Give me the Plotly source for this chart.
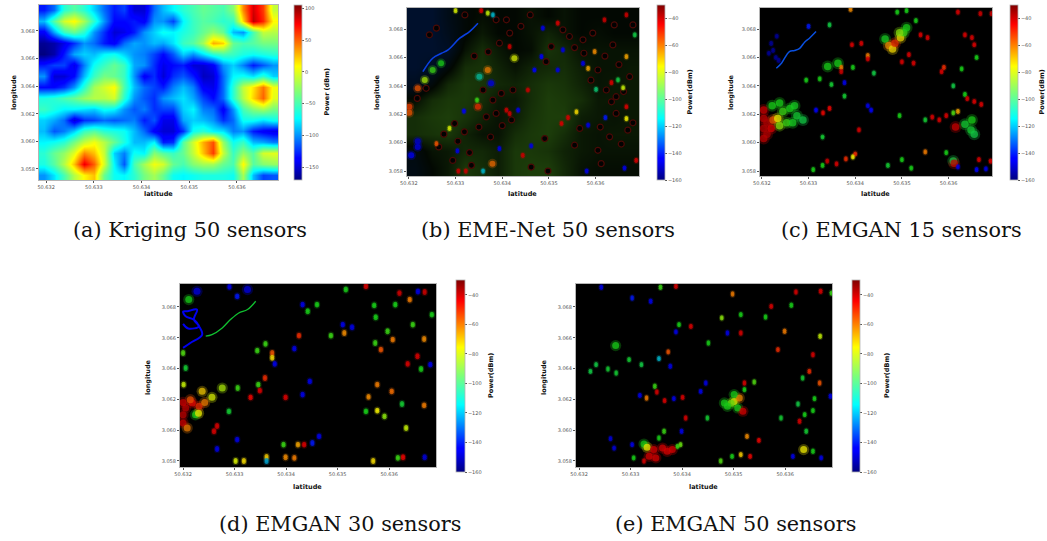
import numpy as np
import plotly.graph_objects as go

LAT0, LON0 = 50.632, 3.058   # spot coordinates below are milli-degrees from this corner
LAT_TICKS = [50.632, 50.633, 50.634, 50.635, 50.636]
LON_TICKS = [3.058, 3.060, 3.062, 3.064, 3.066, 3.068]
LAT_LABELS = ["50.632", "50.633", "50.634", "50.635", "50.636"]
LON_LABELS = ["3.058", "3.060", "3.062", "3.064", "3.066", "3.068"]
POWER_TICKS_A = [100, 50, 0, -50, -100, -150]
POWER_LABELS_A = ["100", "50", "0", "\u221250", "\u2212100", "\u2212150"]
POWER_TICKS = [-40, -60, -80, -100, -120, -140, -160]
POWER_LABELS = ["\u221240", "\u221260", "\u221280", "\u2212100", "\u2212120", "\u2212140", "\u2212160"]
CAPTIONS = ["(a) Kriging 50 sensors", "(b) EME-Net 50 sensors", "(c) EMGAN 15 sensors",
            "(d) EMGAN 30 sensors", "(e) EMGAN 50 sensors"]

# (a) Kriging power field, dBm, rows top to bottom
KRIGING = [
[-130,-110,-60,-45,-60,-85,-110,-130,-120,-150,-150,-110,-90,-75,-60,-50,-40,-45,-50,-30,40,85,60,-10],
[-90,-45,-5,10,-20,-60,-100,-135,-135,-130,-140,-100,-100,-120,-75,-55,-45,-50,-60,-55,20,90,65,10],
[-140,-95,-55,-40,-60,-100,-125,-150,-145,-130,-100,-85,-70,-75,-65,-55,-40,-25,-40,-90,-100,-50,-10,-15],
[-165,-160,-145,-125,-100,-110,-130,-140,-110,-95,-100,-90,-95,-80,-55,-45,-20,30,20,-40,-50,-45,-35,-35],
[-170,-160,-130,-95,-85,-90,-75,-70,-85,-100,-105,-120,-135,-115,-85,-100,-80,-60,-50,-55,-65,-70,-65,-60],
[-130,-120,-120,-145,-105,-70,-55,-40,-55,-95,-100,-125,-145,-135,-130,-150,-150,-140,-100,-85,-105,-130,-115,-100],
[-100,-150,-150,-135,-90,-55,-35,-40,-55,-100,-140,-125,-150,-125,-115,-130,-155,-150,-110,-75,-70,-80,-60,-85],
[-135,-135,-125,-100,-60,-20,-5,10,-50,-90,-110,-120,-130,-105,-90,-105,-140,-145,-110,-60,-10,15,45,5],
[-65,-60,-50,-40,-25,-15,-15,-5,-60,-100,-115,-125,-100,-90,-80,-95,-120,-135,-110,-60,-15,20,50,0],
[-55,-65,-75,-75,-80,-85,-70,-75,-100,-115,-105,-125,-120,-120,-85,-75,-105,-110,-140,-100,-50,-30,-20,-35],
[-85,-95,-110,-150,-125,-120,-110,-115,-110,-105,-130,-115,-145,-145,-95,-85,-90,-100,-125,-110,-70,-70,-80,-70],
[-90,-115,-105,-85,-55,-45,-60,-65,-70,-90,-110,-140,-150,-150,-125,-70,-60,-75,-80,-105,-100,-130,-140,-145],
[-75,-70,-60,-35,-10,5,-15,-40,-65,-90,-90,-75,-130,-125,-45,-5,30,55,-25,-70,-55,-90,-95,-105],
[-60,-40,-25,0,40,25,-10,-85,-105,-70,-75,-30,-45,-55,-40,-10,25,60,-10,-55,-25,-45,-5,0],
[-65,-45,-15,25,80,50,-5,-75,-115,-50,-20,5,-5,-40,-50,-30,-20,-20,-40,-50,10,-45,-30,-25],
[-100,-80,-50,-15,10,25,-40,-70,-75,-60,-35,-20,-40,-70,-75,-70,-65,-65,-65,-70,-20,-90,-120,-115],
]

# (b) faint background level: -1 deep navy, 0 black, 1 dark green, rows top to bottom
B_GROUND = [
[-1,-1,-.5,-.1,.1,0,0,.2,0,.2,0,0,0,0],
[-1,-1,-.6,-.1,.3,0,0,.2,.5,.2,0,.1,0,0],
[-1,-1,-.8,.2,.7,.3,0,.1,.8,.6,.2,.2,.2,.2],
[-1,-.8,-.2,.7,.8,.5,.2,.5,.6,.7,.4,.2,.2,.3],
[-.7,-.2,.6,.9,.8,.6,.5,.7,.9,.8,.5,.2,.3,.3],
[.1,.7,.9,.9,.7,.3,.3,.7,1,.9,.7,.3,.3,.3],
[.7,.9,1,.8,.5,.2,.4,.8,1,1,.4,.3,.2,.3],
[.7,.8,.9,.5,.2,.2,.7,.9,1,.7,.3,.2,.3,.3],
[-.3,.2,.3,.6,.6,.4,.9,.9,.8,.5,.3,.2,.2,.2],
[-.4,0,.3,.9,.7,.4,.9,1,1,.6,.2,.1,.1,.1],
]
# (b) dark pits with a faint red rim: (lat, lon)
B_PITS = [(.37,5.83),(.18,5.12),(.64,1.7),(.98,3.35),(1.19,2.76),(.94,.75),(1.34,.4),(1.8,5.0),(1.59,5.71),
(1.66,3.82),(1.87,4.06),(1.98,5.47),(2.23,5.71),(1.94,9.01),(1.87,10.66),(2.09,10.66),(2.16,9.72),(2.98,0),
(2.62,.28),(2.91,2.29),(3.55,1.82),(3.66,3.0),(4.05,1.46),(4.12,.52),(4.3,2.41),(4.44,4.06),(4.69,2.88),
(4.34,4.88),(4.05,7.12),(4.23,5.71),(4.44,5.24),(3.73,9.25),(3.3,9.95),(3.44,9.48),(3.94,9.72),(4.37,8.89),
(4.73,6.65),(3.05,8.77),(2.94,7.71),(.59,10.07),(.44,9.6),(1.5,3.1),(1.75,2.4),(1.05,2.1),(1.3,1.3),(.75,2.6),
(2.2,3.6),(2.0,3.2),(4.55,1.9),(4.8,3.4),(4.1,3.1),(4.6,5.6),(3.9,6.4),(4.5,7.5),(4.2,8.1),(3.55,8.7),(3.75,8.3),
(2.4,10.2),(2.6,11.0),(1.2,11.0),(1.4,8.1),(1.7,8.4),(4.8,10.3),(4.4,10.3)]
# Streaks that run as a thin wavy line: (lat, lon)
B_RIVER = [(.3,7.0),(.51,7.95),(.7,8.3),(.84,8.54),(1.09,9.36),(1.3,9.83),(1.48,10.42)]
C_RIVER = [(.31,7.24),(.42,7.6),(.59,8.42),(.7,8.5),(.81,8.65),(.92,9.1),(1.02,9.36),(1.16,9.83)]
D_RIVER = [(.44,8.1),(.56,8.2),(.76,8.64),(.92,9.18),(1.08,9.61),(1.25,9.83),(1.41,10.37)]
D_WEB = [(.0,7.34),(.14,7.66),(.37,8.2),(.31,8.74),(.21,9.18),(.05,9.39),(.0,9.7),(.08,9.72),(.27,9.83),(.21,9.18),(.31,8.74),(.1,8.6),(.0,8.9)]
# Spots: (lat, lon, dBm). BIG are broad hot spots, SMALL are narrow ones
B_BIG = [(.01,4.53,-52),(.01,4.1,-55),(.19,5.83,-55),(.34,6.42,-82),(.51,7.12,-92),(.69,7.59,-95),
(2.26,7.95,-78),(1.69,7.12,-60),(1.51,6.65,-110),(1.76,6.18,-148),(1.48,4.53,-50),(.19,1.7,-148),(.05,1.11,-145),
(.19,2.1,-150),(1.79,.52,-58)]
B_SMALL = [(1.46,5.0,-92),(1.18,4.22,-145),(.59,1.93,-55),(.87,3.0,-78),(1.04,1.42,-148),(1.59,0,-115),(1.22,0,-40),
(1.06,0,-40),(2.16,8.77,-40),
(2.69,7.12,-145),(2.84,8.07,-145),(2.34,4.29,-148),(2.55,5.71,-40),(2.09,4.29,-40),(2.16,4.05,-40),(1.94,1.58,-148),
(2.62,1.77,-148),(2.44,1.11,-40),(3.59,4.17,-72),(3.41,3.77,-42),(3.27,3.35,-42),(3.84,3.23,-148),(4.21,3.77,-140),
(4.66,3.7,-75),(4.01,5.75,-105),(3.84,7.24,-65),(3.98,8.42,-62),(3.73,7.59,-148),(4.66,8.07,-65),(4.34,6.23,-42),
(4.48,6.42,-100),(4.59,5.87,-80),(4.66,4.53,-42),(4.87,.75,-42),(4.62,.21,-148),(3.81,0,-148),(4.19,10.66,-40),
(4.66,11.0,-40),(3.19,10.42,-42),(2.87,10.07,-148),(3.3,8.54,-148),(3.19,7.12,-148),(4.84,9.6,-100),(1.69,11.13,-80),
(1.8,11.0,-115),(1.55,11.3,-42),(1.0,11.3,-78)]

C_BIG = [(.04,3.7,-38),(.04,3.0,-37),(.11,3.4,-36),(.11,2.6,-36),(.2,3.0,-42),(.04,2.3,-38),(.04,4.3,-40),(.24,3.6,-55),
(.34,3.7,-76),(.38,3.2,-85),(.45,4.2,-92),(.53,3.4,-92),(.22,4.6,-95),(.38,4.8,-95),(.6,4.4,-95),(.7,4.6,-96),(.75,3.9,-98),
(.88,3.6,-100),(.66,3.4,-96),(2.64,9.3,-96),(2.72,8.85,-62),(2.8,8.6,-72),(2.85,9.0,-50),(2.97,9.4,-72),(3.04,9.75,-92),
(3.1,10.1,-95),(2.95,9.75,-85),(4.35,3.3,-98),(4.48,2.9,-98),(4.55,2.6,-100),(4.5,3.6,-95),(4.15,3.1,-40),(4.1,.7,-100),
(4.12,.55,-40),(1.41,7.36,-95),(1.63,7.6,-95)]
C_SMALL = [(1.0,10.2,-140),(1.45,10.3,-100),(.24,8.5,-158),(.3,8.0,-158),(.2,9.0,-158),(.32,9.5,-158),(.36,7.8,-158),
(.15,8.3,-158),(1.7,7.0,-40),(1.7,7.3,-60),(.95,6.4,-95),(1.24,6.5,-95),(1.49,6.1,-98),(1.77,6.23,-148),(1.77,5.28,-98),
(1.45,4.41,-45),(1.31,4.1,-45),(1.16,4.29,-145),(2.27,8.14,-60),(2.27,7.9,-42),(2.13,9.0,-42),(1.93,8.9,-42),(1.95,7.3,-95),
(2.4,6.9,-100),(2.34,4.29,-145),(2.27,4.6,-148),(2.08,2.9,-42),(1.3,2.4,-98),(1.4,.7,-40),(1.6,.5,-42),(1.8,.85,-50),(1.95,1.0,-75),
(2.0,1.2,-50),(1.3,.4,-95),(1.1,.1,-95),(2.7,.4,-98),(3.0,.8,-95),(3.2,.2,-95),(3.5,1.35,-60),(2.95,3.9,-95),(3.5,3.6,-98),
(3.8,3.6,-42),(3.95,3.9,-42),(3.65,3.8,-42),(4.2,4.2,-65),(4.1,4.1,-90),(3.0,7.7,-42),(3.15,8.2,-42),(3.25,7.6,-42),
(3.9,7.3,-50),(3.85,7.0,-42),(4.28,7.2,-95),(4.1,6.0,-100),(4.4,5.1,-42),(4.55,4.9,-42),(4.7,4.7,-42),(4.35,5.4,-95),
(4.35,9.6,-42),(4.5,9.4,-42),(4.55,8.9,-42),(4.6,8.0,-95),(3.4,9.6,-42),(3.55,9.4,-42),(3.3,10.6,-95),(3.1,11.3,-95),
(2.9,11.2,-95),(4.2,11.2,-42),(4.68,11.1,-40),(4.92,11.1,-40),(1.9,11.4,-62),(4.2,.3,-148),(4.6,.1,-145),(4.8,.15,-148),
(4.65,.8,-42),(4.9,.7,-42),(3.95,1.3,-95)]

D_BIG = [(.27,11.02,-148),(.11,10.48,-95),(1.25,11.13,-148),(.05,3.44,-38),(.0,3.0,-38),(.0,2.47,-40),(.08,2.14,-60),(.18,3.77,-45),
(.31,3.55,-50),(.37,4.52,-70),(.56,4.13,-78),(.76,4.74,-82),(.24,3.0,-95),(.14,3.98,-55),(.0,3.8,-40),(.3,3.1,-75),(.42,3.8,-60)]
D_SMALL = [(1.05,10.69,-140),(.9,11.3,-148),(.0,7.01,-90),(.05,6.04,-98),(.01,4.96,-80),(1.06,4.74,-92),(.89,3.22,-98),(1.31,4.13,-45),
(1.49,4.57,-42),(1.46,4.96,-92),(1.59,5.39,-50),(1.44,7.16,-92),(1.6,7.6,-92),(1.73,7.01,-55),(1.73,6.7,-72),(1.78,6.3,-148),
(.6,1.93,-42),(.66,2.27,-42),(1.05,1.39,-148),(.66,.78,-148),(1.62,.26,-70),(1.02,.0,-78),(1.18,.0,-72),(1.62,.0,-118),
(1.99,.24,-62),(2.16,.2,-60),(1.95,1.06,-92),(2.23,1.06,-65),(2.35,1.06,-42),(2.51,1.17,-140),(2.64,1.6,-148),(2.32,4.31,-148),
(2.46,5.17,-148),(1.99,4.13,-42),(2.25,8.14,-50),(2.16,7.29,-148),(3.13,8.31,-62),(2.87,8.14,-92),(2.6,10.15,-95),(2.42,9.72,-95),
(2.32,10.15,-148),(3.16,11.13,-95),(3.55,11.34,-42),(3.71,10.1,-95),(3.74,9.33,-95),(4.12,10.15,-95),(4.2,10.9,-40),
(4.4,10.48,-60),(4.69,10.97,-40),(4.56,11.0,-148),(4.83,9.5,-95),(4.46,8.85,-92),(3.97,8.42,-92),(4.07,7.88,-60),(4.68,7.92,-62),
(3.73,7.66,-92),(3.84,7.23,-55),(4.55,6.8,-42),(4.36,6.3,-42),(4.62,5.97,-95),(4.8,6.26,-148),(3.77,4.96,-60),(4.05,4.52,-58),
(3.6,4.16,-62),(4.25,3.7,-98),(4.68,3.61,-60),(3.55,3.22,-95),(3.77,3.27,-75),(3.91,2.9,-85),(4.33,2.14,-80),(4.27,.24,-45),
(4.17,.2,-92),(4.69,.24,-150),(3.69,.0,-72),(3.1,8.85,-148),(3.28,8.68,-148)]

E_BIG = [(.71,7.49,-95),(1.26,1.1,-95),(1.32,.89,-75),(1.36,.3,-42),(1.49,.2,-42),(1.71,.63,-42),(1.81,.74,-42),(1.62,.84,-42),
(1.45,.74,-42),(3.01,3.87,-78),(2.95,3.75,-88),(2.88,3.55,-95),(3.11,4.09,-62),(3.08,3.44,-95),(2.82,3.77,-95),(3.01,4.31,-95),
(3.18,3.23,-42),(4.36,.74,-75)]
E_SMALL = [(.97,6.58,-98),(.33,6.26,-100),(.72,5.71,-98),(.22,5.82,-100),(.56,5.97,-98),(1.21,6.26,-100),(1.39,10.37,-148),
(1.03,10.58,-140),(.43,11.28,-148),(1.88,8.38,-148),(1.55,6.65,-115),(1.77,6.15,-148),(2.36,4.52,-148),(2.46,5.06,-148),
(1.18,4.26,-148),(1.84,4.05,-148),(1.99,1.93,-148),(.61,1.45,-150),(.68,.84,-150),(2.88,8.31,-148),(4.15,.3,-148),(4.7,.2,-148),
(1.73,7.08,-55),(1.51,4.48,-42),(1.47,4.85,-92),(1.31,4.09,-60),(1.66,3.92,-42),(2.01,4.13,-42),(2.17,8.74,-42),(1.94,8.85,-95),
(1.88,11.34,-42),(1.58,11.28,-92),(2.98,10.84,-60),(2.77,9.29,-85),(3.14,9.5,-95),(3.14,8.31,-42),(2.51,7.66,-95),(3.73,10.04,-42),
(3.62,9.35,-95),(4.12,10.11,-95),(4.21,10.97,-42),(4.69,11.02,-42),(4.9,10.9,-92),(3.99,8.42,-60),(3.86,7.23,-50),(4.68,8.1,-80),
(4.54,6.9,-42),(4.47,5.82,-50),(4.67,5.06,-55),(4.34,5.39,-98),(4.57,4.05,-95),(4.54,3.27,-95),(4.25,3.7,-100),(4.28,2.58,-42),
(4.38,3.01,-95),(4.41,1.93,-98),(4.54,.63,-95),(4.88,4.2,-148),(3.92,2.79,-98),(3.49,1.34,-45),(3.26,1.6,-62),(3.14,.41,-70),
(3.32,.3,-45),(2.97,.3,-95),(2.75,.0,-90),(2.49,2.79,-98),(3.21,4.63,-95),(3.4,5.13,-90),(3.21,5.06,-42),(1.26,.0,-42),
(1.55,1.49,-95),(1.65,1.93,-92),(1.91,.95,-92),(1.97,1.06,-88),(1.06,.2,-95),(1.03,1.06,-148),(2.07,2.79,-42)]

JET = [[0, "#00007f"], [0.11, "#0000ff"], [0.125, "#0000ff"], [0.35, "#00ffff"], [0.5, "#7cff79"],
       [0.65, "#ffff00"], [0.89, "#ff0000"], [1, "#7f0000"]]
# Mid-range greens sit darker on the black ground in panels b to e
SPOT_JET = [[0, "#00007f"], [0.11, "#0000f0"], [0.125, "#0000f0"], [0.35, "#00b0c0"], [0.5, "#18c818"],
            [0.65, "#e8e800"], [0.89, "#e00000"], [1, "#7f0000"]]
GROUND = [[0, "#00102c"], [0.5, "#020802"], [1, "#1c3d0a"]]
W, H = 1047, 541
TICK_FONT = dict(family="DejaVu Sans", size=5, color="#555555")
LABEL_FONT = dict(family="DejaVu Sans", size=6.5, color="#111111")


def fx(px):
    return px / W


def fy(px):
    return 1 - px / H


def centres(rng, count):
    step = (rng[1] - rng[0]) / count
    return rng[0] + step * (np.arange(count) + 0.5)


PANELS = [
    dict(box=(39, 278, 5, 180), bar=(294, 302, 5, 180), lat=(50.63185, 50.63686), lon=(3.0572, 3.06988),
         cap=(190, 230), clim=(-170, 105), ticks=POWER_TICKS_A, labels=POWER_LABELS_A, name="Power (dBm)", tx=326,
         xt=(158, 194), yt=(14, 92)),
    dict(box=(407, 639, 8, 176), bar=(657, 665, 5, 180), lat=(50.63196, 50.63693), lon=(3.05765, 3.06949),
         cap=(548, 230), clim=(-160, -30), ticks=POWER_TICKS, labels=POWER_LABELS, name="Power(dBm)", tx=689,
         xt=(522, 194), yt=(377, 92)),
    dict(box=(760, 992, 8, 176), bar=(1010, 1018, 5, 180), lat=(50.63196, 50.63693), lon=(3.05765, 3.06949),
         cap=(901, 230), clim=(-160, -30), ticks=POWER_TICKS, labels=POWER_LABELS, name="Power(dBm)", tx=1041,
         xt=(875, 194), yt=(731, 92)),
    dict(box=(180, 436, 284, 467), bar=(456, 465, 280, 472), lat=(50.63194, 50.63691), lon=(3.05761, 3.06949),
         cap=(340, 524), clim=(-160, -30), ticks=POWER_TICKS, labels=POWER_LABELS, name="Power(dBm)", tx=491,
         xt=(307, 487), yt=(148, 377)),
    dict(box=(576, 832, 284, 467), bar=(852, 860, 280, 472), lat=(50.63194, 50.63691), lon=(3.05761, 3.06949),
         cap=(735, 524), clim=(-160, -30), ticks=POWER_TICKS, labels=POWER_LABELS, name="Power(dBm)", tx=887,
         xt=(703, 487), yt=(544, 377)),
]
SPOTS = [None, (B_BIG, B_SMALL, 6, 3.5), (C_BIG, C_SMALL, 7.5, 3.5), (D_BIG, D_SMALL, 7, 4), (E_BIG, E_SMALL, 7, 3.5)]
RIVERS = [[], [(B_RIVER, "#0a40e0", 1.6)], [(C_RIVER, "#0a50e0", 1.5)],
          [(D_RIVER, "#10c030", 1.3), (D_WEB, "#0000f0", 2)], []]

fig = go.Figure()
layout = dict(width=W, height=H, margin=dict(l=0, r=0, t=0, b=0, autoexpand=False), paper_bgcolor="white",
              plot_bgcolor="black", showlegend=False, annotations=[])


def note(pos, text, font, angle=0):
    layout["annotations"].append(dict(xref="paper", yref="paper", x=fx(pos[0]), y=fy(pos[1]), xanchor="center",
                                      yanchor="middle", text=text, textangle=angle, showarrow=False, font=font))


for i, p in enumerate(PANELS):
    n = i + 1
    xa, ya = f"x{n}", f"y{n}"
    ca_ref = f"coloraxis{n}" if n > 1 else "coloraxis"
    layout[f"xaxis{n}"] = dict(domain=[fx(p["box"][0]), fx(p["box"][1])], range=p["lat"], anchor=ya,
                               tickvals=LAT_TICKS, ticktext=LAT_LABELS, tickfont=TICK_FONT, ticks="outside",
                               ticklen=2, tickwidth=0.6, tickcolor="#555555", showgrid=False, zeroline=False,
                               showline=True, mirror=True, linecolor="#b5b5b5", linewidth=1)
    layout[f"yaxis{n}"] = dict(domain=[fy(p["box"][3]), fy(p["box"][2])], range=p["lon"], anchor=xa,
                               tickvals=LON_TICKS, ticktext=LON_LABELS, tickfont=TICK_FONT, ticks="outside",
                               ticklen=2, tickwidth=0.6, tickcolor="#555555", showgrid=False, zeroline=False,
                               showline=True, mirror=True, linecolor="#b5b5b5", linewidth=1)
    b = p["bar"]
    layout[ca_ref] = dict(
        cmin=p["clim"][0], cmax=p["clim"][1], colorscale=JET,
        colorbar=dict(x=fx(b[0]), xanchor="left", y=fy(b[3]), yanchor="bottom", len=(b[3] - b[2]) / H,
                      lenmode="fraction", thickness=b[1] - b[0], thicknessmode="pixels",
                      tickvals=p["ticks"], ticktext=p["labels"], tickfont=TICK_FONT, ticks="outside",
                      ticklen=2, tickwidth=0.6, tickcolor="#555555", outlinecolor="#b5b5b5", outlinewidth=0.8,
                      xpad=0, ypad=0))
    note((p["tx"], (b[2] + b[3]) / 2), f"<b>{p['name']}</b>", LABEL_FONT, -90)
    note(p["xt"], "<b>latitude</b>", LABEL_FONT)
    note(p["yt"], "<b>longitude</b>", LABEL_FONT, -90)
    note(p["cap"], CAPTIONS[i], dict(family="DejaVu Serif", size=20.8, color="#111111"))

    if i == 0:
        z = np.array(KRIGING)
        fig.add_trace(go.Heatmap(z=z[::-1], x=centres(p["lat"], z.shape[1]), y=centres(p["lon"], z.shape[0]),
                                 coloraxis=ca_ref, zsmooth="best", xaxis=xa, yaxis=ya))
        continue

    if i == 1:
        g = np.array(B_GROUND)
        fig.add_trace(go.Heatmap(z=g[::-1], x=centres(p["lat"], g.shape[1]), y=centres(p["lon"], g.shape[0]),
                                 zmin=-1, zmax=1, colorscale=GROUND, showscale=False, zsmooth="best",
                                 xaxis=xa, yaxis=ya))
        pits = np.array(B_PITS)
        fig.add_trace(go.Scatter(x=LAT0 + pits[:, 0] / 1000, y=LON0 + pits[:, 1] / 1000, mode="markers", xaxis=xa, yaxis=ya,
                                 marker=dict(size=6, color="#020202", line=dict(color="#4a0a06", width=1.2))))
    for path, colour, width in RIVERS[i]:
        a = np.array(path)
        fig.add_trace(go.Scatter(x=LAT0 + a[:, 0] / 1000, y=LON0 + a[:, 1] / 1000, mode="lines", xaxis=xa, yaxis=ya,
                                 line=dict(color=colour, width=width, shape="spline")))
    big, small, sb, ss = SPOTS[i]
    a, s = np.array(big), np.array(small)
    # Soft halo below each spot, then the spot; narrow spots are stretched north-south as in the source
    sx = np.concatenate([s[:, 0], s[:, 0]])
    sy = np.concatenate([s[:, 1] - 0.06, s[:, 1] + 0.06])
    sc = np.concatenate([s[:, 2], s[:, 2]])
    for xs, ys, cs, size, op in ((a[:, 0], a[:, 1], a[:, 2], sb * 1.6, 0.28), (sx, sy, sc, ss * 1.6, 0.2),
                                 (a[:, 0], a[:, 1], a[:, 2], sb, 0.75), (sx, sy, sc, ss, 0.8)):
        fig.add_trace(go.Scatter(x=LAT0 + xs / 1000, y=LON0 + ys / 1000, mode="markers", xaxis=xa, yaxis=ya,
                                 marker=dict(size=size, color=cs, cmin=p["clim"][0], cmax=p["clim"][1],
                                             colorscale=SPOT_JET, opacity=op, line=dict(width=0))))
    # Same spots, unseen, tie this panel's colour bar to its colour axis
    fig.add_trace(go.Scatter(x=LAT0 + a[:, 0] / 1000, y=LON0 + a[:, 1] / 1000, mode="markers", xaxis=xa, yaxis=ya,
                             marker=dict(size=1, color=a[:, 2], coloraxis=ca_ref, opacity=0), hoverinfo="skip"))

fig.update_layout(**layout)
fig.write_html("out.html", post_script="document.body.style.margin='0';", config=dict(displayModeBar=False))
